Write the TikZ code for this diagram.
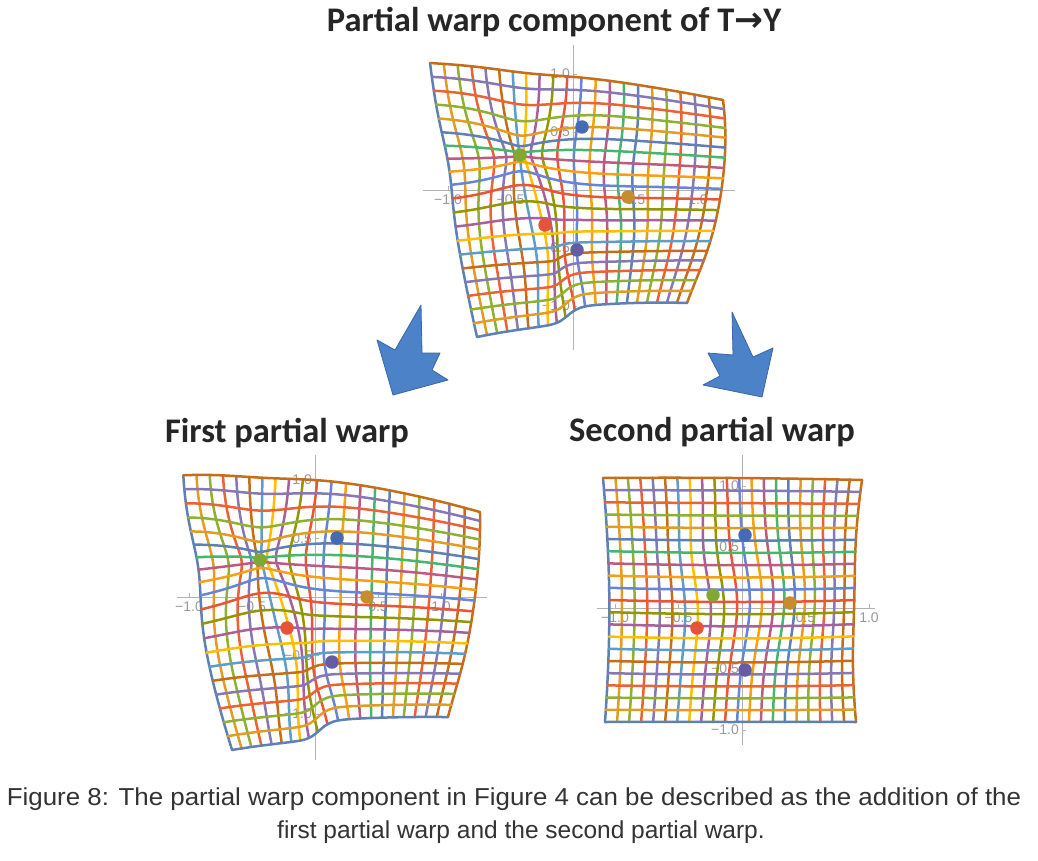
\documentclass[tikz,border=0pt]{standalone}
\usepackage{graphicx}
\usepackage{fontspec}
\setmainfont{Liberation Sans}
\newfontfamily\calib{Carlito}
\newfontfamily\djv{DejaVu Sans}
\definecolor{p1}{rgb}{0.368417,0.506779,0.709798}
\definecolor{p2}{rgb}{0.880722,0.611041,0.142051}
\definecolor{p3}{rgb}{0.560181,0.691569,0.194885}
\definecolor{p4}{rgb}{0.922526,0.385626,0.209179}
\definecolor{p5}{rgb}{0.528488,0.470624,0.701351}
\definecolor{p6}{rgb}{0.772079,0.431554,0.102387}
\definecolor{p7}{rgb}{0.363898,0.618501,0.782349}
\definecolor{p8}{rgb}{1,0.75,0}
\definecolor{p9}{rgb}{0.647624,0.37816,0.614037}
\definecolor{p10}{rgb}{0.571589,0.586483,0}
\definecolor{p11}{rgb}{0.915,0.3325,0.2125}
\definecolor{p12}{rgb}{0.400822,0.522007,0.85}
\definecolor{p13}{rgb}{0.972829,0.621644,0.073362}
\definecolor{p14}{rgb}{0.736783,0.358,0.503027}
\definecolor{p15}{rgb}{0.280264,0.715,0.429209}
\colorlet{p16}{p1}\colorlet{p17}{p2}\colorlet{p18}{p3}\colorlet{p19}{p4}
\colorlet{p20}{p5}\colorlet{p21}{p6}\colorlet{p22}{p6}
\definecolor{lmB}{rgb}{0.27,0.42,0.70}
\definecolor{lmG}{rgb}{0.50,0.66,0.20}
\definecolor{lmO}{rgb}{0.78,0.55,0.18}
\definecolor{lmR}{rgb}{0.90,0.33,0.22}
\definecolor{lmP}{rgb}{0.40,0.36,0.64}
\definecolor{arrblue}{rgb}{0.30,0.51,0.78}
\definecolor{arrline}{rgb}{0.22,0.40,0.65}
% ---- warp machinery ----
\newcommand\setnetx[9]{\def\xA{#1}\def\xB{#2}\def\xC{#3}\def\xD{#4}\def\xE{#5}\def\xF{#6}\def\xG{#7}\def\xH{#8}\def\xI{#9}}
\newcommand\setnety[9]{\def\yA{#1}\def\yB{#2}\def\yC{#3}\def\yD{#4}\def\yE{#5}\def\yF{#6}\def\yG{#7}\def\yH{#8}\def\yI{#9}}
\newcommand\contract[4]{%
  \pgfmathsetmacro\qdx{(\qbx-#1)/#3}\pgfmathsetmacro\qdy{(\qby-#2)/#3}%
  \pgfmathsetmacro\qg{exp(-min((\qdx)*(\qdx)+(\qdy)*(\qdy),9))}%
  \pgfmathsetmacro\qax{\qax-#4*(\qbx-#1)*\qg}%
  \pgfmathsetmacro\qay{\qay-#4*(\qby-#2)*\qg}}
\newcommand\bandc[5]{%
  \pgfmathsetmacro\qdx{(\qbx-#1)/#3}\pgfmathsetmacro\qdy{(\qby-#2)/#4}%
  \pgfmathsetmacro\qg{exp(-min((\qdx)*(\qdx)+(\qdy)*(\qdy),9))}%
  \pgfmathsetmacro\qax{\qax-#5*(\qbx-#1)*\qg}}
\newcommand\shiftb[6]{%
  \pgfmathsetmacro\qdx{(\qbx-#1)/#3}\pgfmathsetmacro\qdy{(\qby-#2)/#4}%
  \pgfmathsetmacro\qg{exp(-min((\qdx)*(\qdx)+(\qdy)*(\qdy),9))}%
  \pgfmathsetmacro\qax{\qax+#5*\qg}%
  \pgfmathsetmacro\qay{\qay+#6*\qg}}
\newcommand\stepb[5]{%
  \pgfmathsetmacro\qdx{max(min((\qbx-#1)/#2,9),-9)}%
  \pgfmathsetmacro\qdy{(\qby-#3)/#4}%
  \pgfmathsetmacro\qg{exp(-min((\qdy)*(\qdy),9))/(1+exp(-(\qdx)))}%
  \pgfmathsetmacro\qay{\qay+#5*\qg}}
\newcommand\evalpt[2]{%
  \pgfmathsetmacro\wsa{(1-#1)*(1-#1)}\pgfmathsetmacro\wsb{2*#1*(1-#1)}\pgfmathsetmacro\wsc{#1*#1}%
  \pgfmathsetmacro\wta{(1-#2)*(1-#2)}\pgfmathsetmacro\wtb{2*#2*(1-#2)}\pgfmathsetmacro\wtc{#2*#2}%
  \pgfmathsetmacro\qbx{\wta*(\wsa*\xA+\wsb*\xB+\wsc*\xC)+\wtb*(\wsa*\xD+\wsb*\xE+\wsc*\xF)+\wtc*(\wsa*\xG+\wsb*\xH+\wsc*\xI)}%
  \pgfmathsetmacro\qby{\wta*(\wsa*\yA+\wsb*\yB+\wsc*\yC)+\wtb*(\wsa*\yD+\wsb*\yE+\wsc*\yF)+\wtc*(\wsa*\yG+\wsb*\yH+\wsc*\yI)}%
  \let\qax\qbx\let\qay\qby
  \bumps}
\newcommand\drawgrid{%
  \foreach \i in {0,...,21}{%
    \pgfmathsetmacro\qss{\i/21}%
    \gdef\qcoords{}%
    \foreach \k in {0,...,30}{%
      \pgfmathsetmacro\qtt{\k/30}%
      \evalpt{\qss}{\qtt}%
      \xdef\qcoords{\qcoords(\qax,\qay)}}%
    \pgfmathtruncatemacro\qci{\i+1}%
    \edef\qtemp{\noexpand\draw[gl,draw=p\qci] plot[smooth] coordinates {\qcoords};}\qtemp}%
  \foreach \j in {0,...,20}{%
    \pgfmathsetmacro\qtt{\j/20}%
    \gdef\qcoords{}%
    \foreach \k in {0,...,30}{%
      \pgfmathsetmacro\qss{\k/30}%
      \evalpt{\qss}{\qtt}%
      \xdef\qcoords{\qcoords(\qax,\qay)}}%
    \pgfmathtruncatemacro\qci{21-\j}%
    \edef\qtemp{\noexpand\draw[gl,draw=p\qci] plot[smooth] coordinates {\qcoords};}\qtemp}}
\newcommand\panelaxes[9]{%
  \draw[ax] (#5,#2) -- (#6,#2);
  \draw[ax] (#1,#7) -- (#1,#8);
  \foreach \v/\lab [count=\n] in {-1/{−1.0},-0.5/{−0.5},0.5/{0.5},1/{1.0}}{%
    \pgfmathsetmacro\qpx{#1+(\v)*#3}\pgfmathsetmacro\qpy{#2-(\v)*#4}%
    \draw[ax] (\qpx,#2) -- ++(0,-4);
    \draw[ax] (#1,\qpy) -- ++(4,0);
    \node[tl,anchor=north] (#9x\n) at (\qpx,#2+4) {\lab};
    \node[tl,anchor=east] (#9y\n) at (#1-2,\qpy) {\lab};
  }}
\begin{document}
\begin{tikzpicture}[x=1pt,y=-1pt,
  gl/.style={line width=2.5pt, line join=round, line cap=round},
  ax/.style={draw=gray!60, line width=0.9pt},
  tl/.style={text=gray!80, font=\fontsize{14}{14}\selectfont, inner sep=1pt},
  lm/.style={circle, inner sep=0pt, minimum size=13.5pt},
  ttl/.style={font=\calib\bfseries\fontsize{34.5}{38}\selectfont, text=black!85, anchor=base},
  captxt/.style={font=\fontsize{24.5}{30}\selectfont, text=black!80, anchor=base},
  arr/.style={fill=arrblue, draw=arrline, line width=0.8pt, line join=round}]
\fill[white] (0,0) rectangle (1038,861);
\useasboundingbox (0,0) rectangle (1038,861);
% axes
\panelaxes{573}{190}{125}{116}{423}{735}{45}{350}{pa}
\panelaxes{315}{597}{126}{117}{177}{487}{455}{760}{pb}
\panelaxes{742}{608}{127}{122}{597}{875}{455}{745}{pc}
% panel 1: total partial warp component
\setnetx{430}{573.5}{723}{446.5}{564.25}{735}{477}{582}{687}
\setnety{63}{70.5}{100}{200}{198.75}{190.5}{337}{316}{319}
\def\bumps{\contract{520}{155}{48}{0.7}\bandc{556}{255}{32}{55}{0.7}\stepb{570}{6}{320}{65}{-16}\shiftb{625}{175}{40}{40}{-6}{0}}
\drawgrid
% panel 2: first partial warp
\setnetx{183}{318.5}{480}{188.5}{304.75}{482}{232}{330}{448}
\setnety{475}{466.5}{512}{611.5}{596}{600.5}{750}{733.5}{735}
\def\bumps{\contract{260}{560}{50}{0.7}\bandc{305}{665}{35}{60}{0.7}\stepb{322}{6}{740}{70}{-18}}
\drawgrid
% panel 3: second partial warp
\setnetx{603}{733.5}{862}{614}{746.5}{845}{605}{731.5}{856}
\setnety{478}{477}{480}{600}{608.5}{599}{722}{722}{722}
\def\bumps{\shiftb{755}{600}{80}{55}{10}{0}\shiftb{700}{560}{35}{45}{-5}{0}}
\drawgrid
% landmarks
\node[lm,fill=lmB] (a1) at (582,127) {};
\node[lm,fill=lmG] (a2) at (520,155) {};
\node[lm,fill=lmO] (a3) at (628,197) {};
\node[lm,fill=lmR] (a4) at (545,225) {};
\node[lm,fill=lmP] (a5) at (577,250) {};
\node[lm,fill=lmB] (b1) at (337,538) {};
\node[lm,fill=lmG] (b2) at (260,560) {};
\node[lm,fill=lmO] (b3) at (367,597) {};
\node[lm,fill=lmR] (b4) at (287,628) {};
\node[lm,fill=lmP] (b5) at (332,662) {};
\node[lm,fill=lmB] (c1) at (745,535) {};
\node[lm,fill=lmG] (c2) at (713,595) {};
\node[lm,fill=lmO] (c3) at (790,603) {};
\node[lm,fill=lmR] (c4) at (697,628) {};
\node[lm,fill=lmP] (c5) at (745,670) {};
% arrows
\draw[arr] (421,305) -- (422,353) -- (440,353) -- (432,370) -- (448,380) -- (393,395) -- (377,340) -- (395,350) -- cycle;
\draw[arr] (732,312) -- (733,355) -- (708,353) -- (720,376) -- (703,385) -- (762,397) -- (773,348) -- (753,357) -- cycle;
% titles
\node[ttl] (t1) at (554,32) {Partial warp component of T{\djv\bfseries →}Y};
\node[ttl] (t2) at (287,442) {First partial warp};
\node[ttl] (t3) at (712,441) {Second partial warp};
% caption
\node[captxt] (cap1) at (514,805) {\scalebox{1.057}[1]{Figure 8: The partial warp component in Figure 4 can be described as the addition of the}};
\node[captxt] (cap2) at (521,838) {first partial warp and the second partial warp.};
\end{tikzpicture}
\end{document}
